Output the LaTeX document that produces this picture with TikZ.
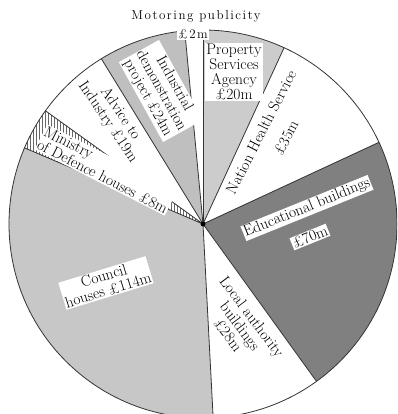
\documentclass[tikz,border=0pt]{standalone}
\usepackage{fontspec}
\usetikzlibrary{patterns}
\newfontfamily\capfont{Latin Modern Roman}[LetterSpace=12]
\tikzset{
  lbl/.style={font=\fontsize{15.5}{15}\selectfont, align=center, inner sep=1pt},
  box/.style={lbl, fill=white},
  caption/.style={font=\capfont\fontsize{13}{14}\selectfont, inner sep=1pt},
  rim/.style={black!80, line width=0.8pt}
}
\begin{document}
\begin{tikzpicture}[x=1pt,y=1pt]
\useasboundingbox (0,0) rectangle (397,414);
\clip (0,0) rectangle (397,414);
\fill[white] (0,0) rectangle (397,414);
\coordinate (c) at (203,190);
\foreach \a/\b/\f in {90/95.4/white,65.3/90/black!20,24.9/65.3/white,-54.2/24.9/black!50,-87/-54.2/white,156.9/273/black!22,121.6/144.3/white,95.4/121.6/black!25}
{
\fill[\f] (c) -- ++(\a:194) arc (\a:\b:194) -- cycle;
}
\fill[pattern=vertical lines, pattern color=black!60] (c) -- ++(144.3:194) arc (144.3:156.9:194) -- cycle;
\foreach \a in {95.4,90,65.3,24.9,-54.2,-87,156.9,144.3,121.6}
{
\draw[rim] (c) -- ++(\a:194);
}
\draw[rim] (c) circle (194);
\node[caption] (motoring) at (196,398) {Motoring publicity};
\node[caption, fill=white] (motoringval) at (193,380) {£2m};
\node[box] (property) at (234,342) {Property\\Services\\Agency\\£20m};
\node[lbl, rotate=63] (health) at (261,282) {Nation Health Service};
\node[lbl, rotate=63] (healthval) at (286,276) {£35m};
\node[box, rotate=22] (education) at (307,206) {Educational buildings};
\node[box, rotate=22] (educationval) at (310,177) {£70m};
\node[lbl, rotate=-53] (local) at (240,88) {Local authority\\buildings\\£28m};
\node[box, rotate=17] (council) at (106,131) {Council\\houses £114m};
\node[box, rotate=-27, align=left] (defence) at (106,244) {Ministry\\of Defence houses £8m};
\node[lbl, rotate=-56] (advice) at (114,296) {Advice to\\Industry £19m};
\node[box, rotate=-61] (industrial) at (161,323) {Industrial\\demonstration\\project £24m};
\fill (c) circle (2.5);
\end{tikzpicture}
\end{document}
